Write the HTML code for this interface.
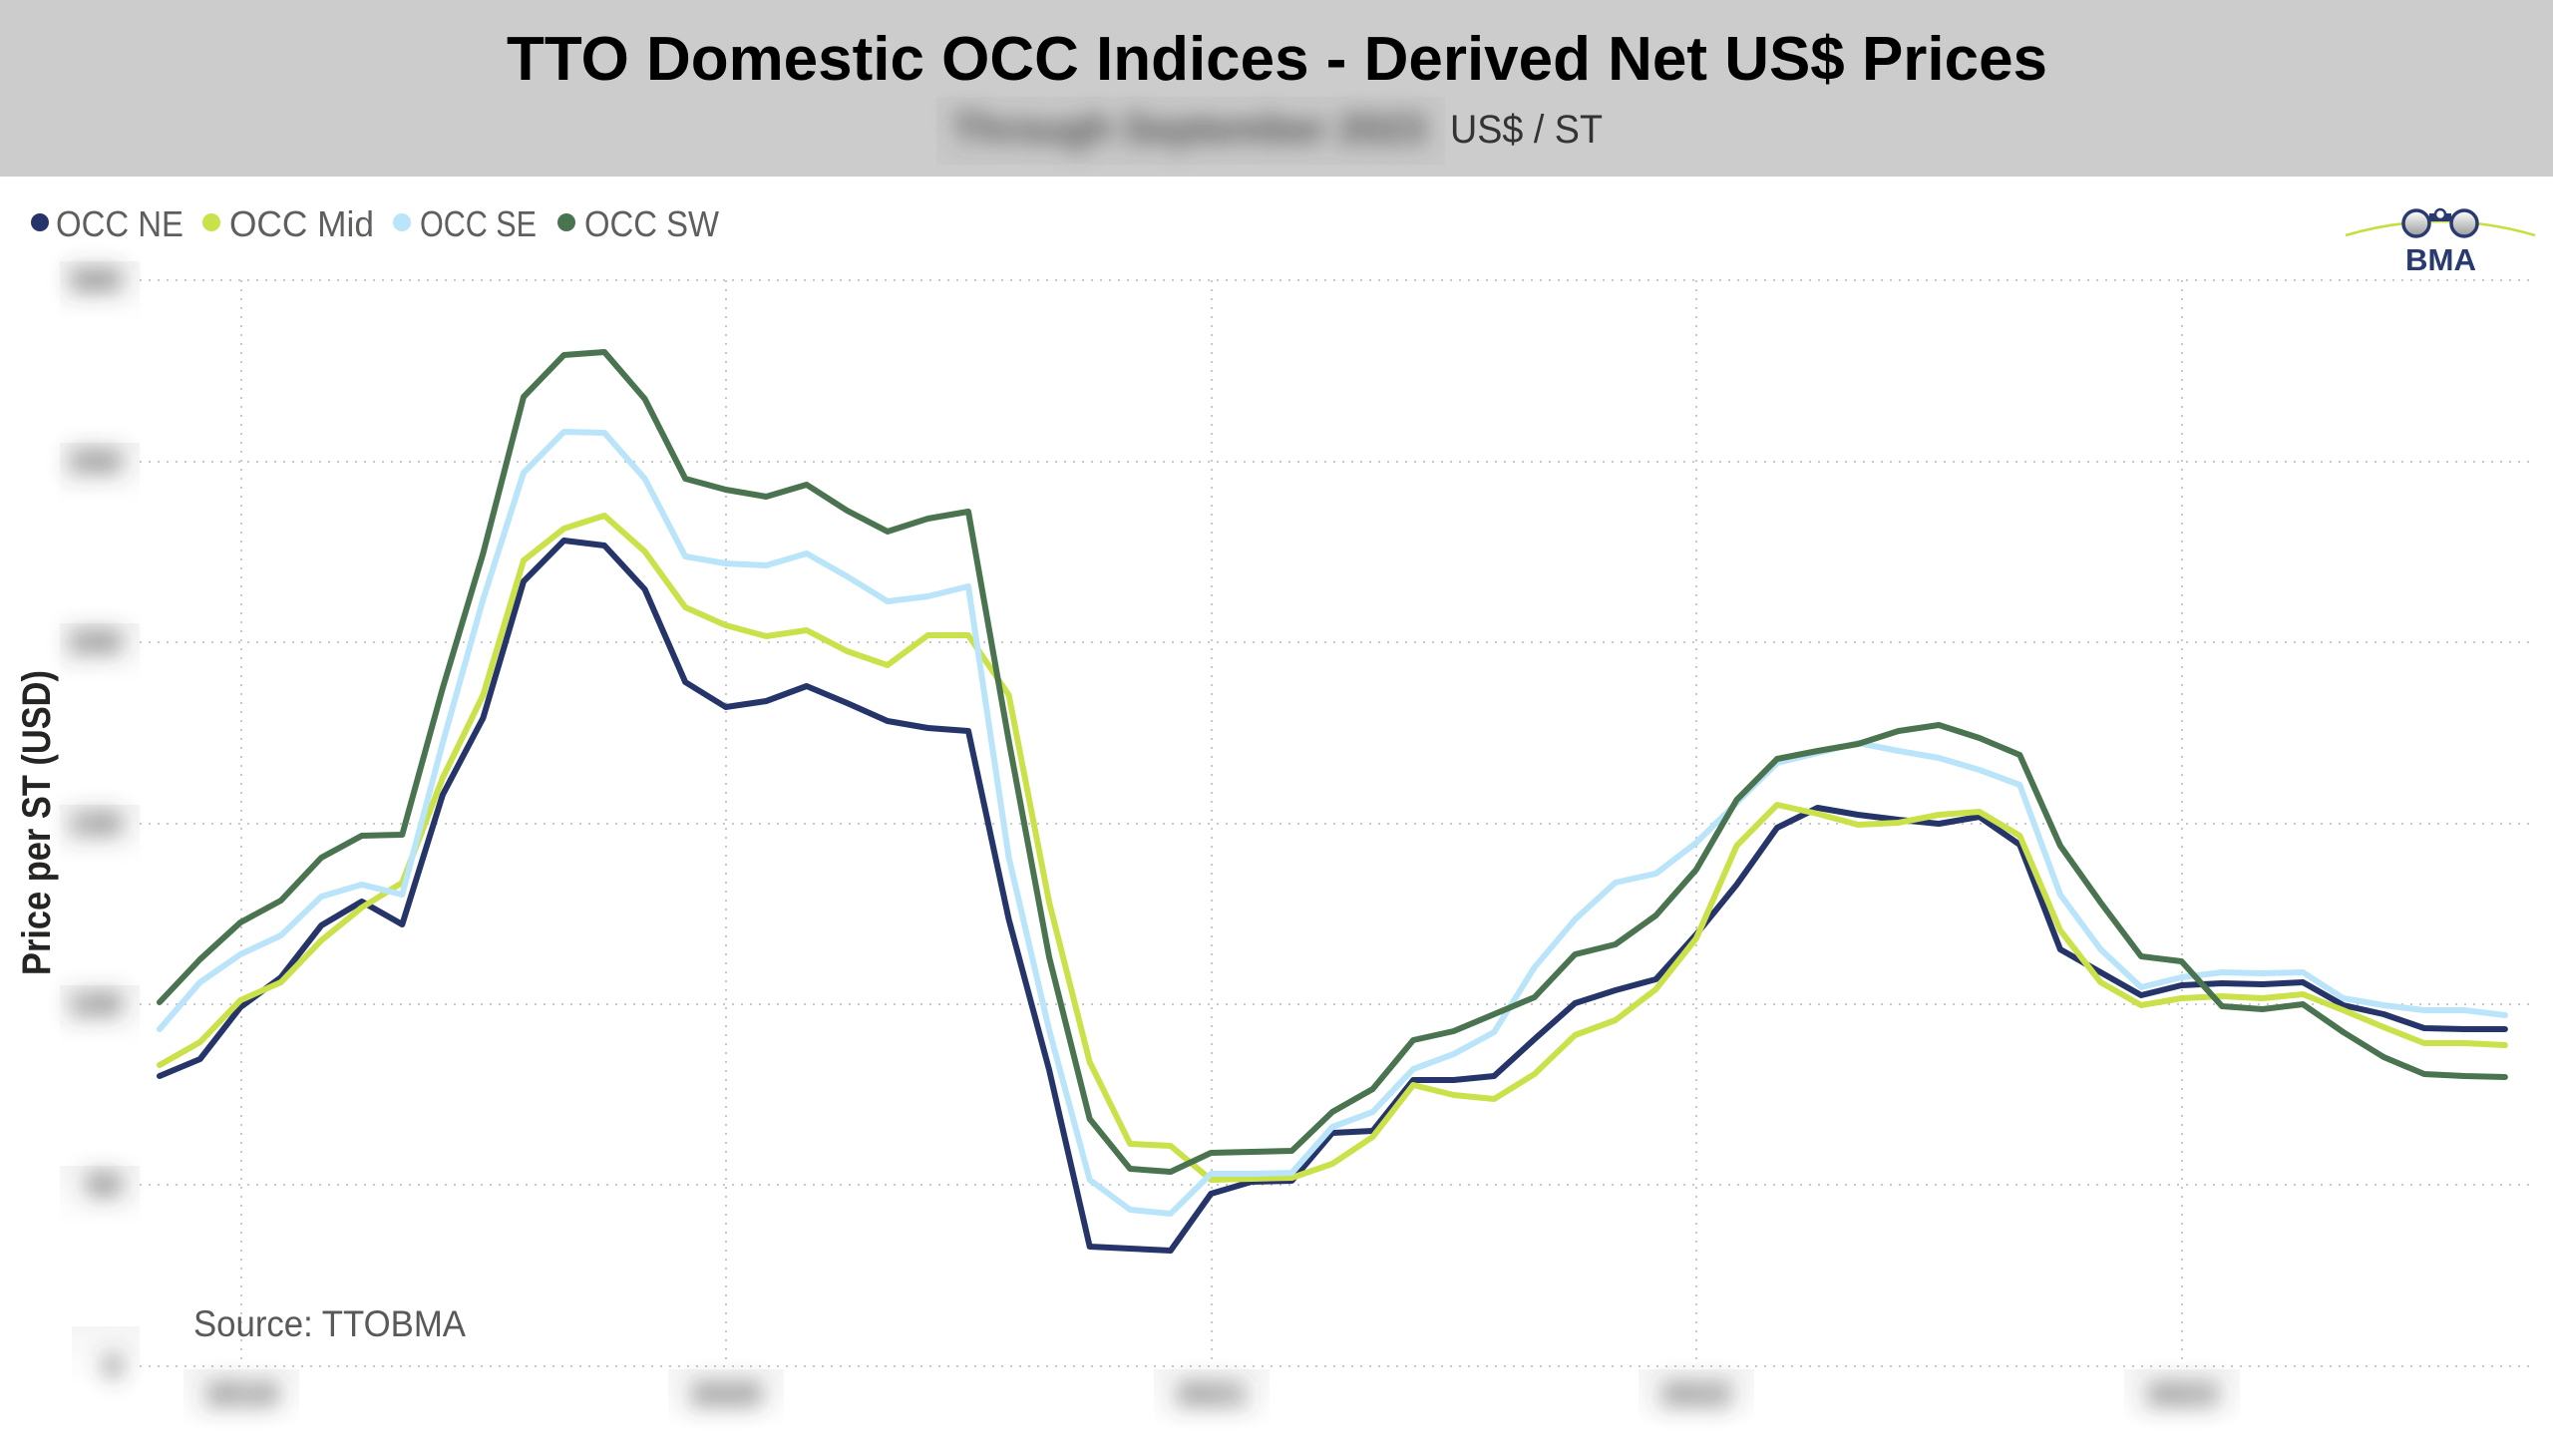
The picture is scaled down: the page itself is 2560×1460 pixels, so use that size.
<!DOCTYPE html>
<html>
<head>
<meta charset="utf-8">
<style>
  html, body { margin:0; padding:0; background:#ffffff; }
  body { width:2560px; height:1460px; overflow:hidden; }
  svg { display:block; }
</style>
</head>
<body>
<svg xmlns="http://www.w3.org/2000/svg" width="2560" height="1460" viewBox="0 0 2560 1460">
  <defs>
    <filter id="blurS" x="-100%" y="-150%" width="300%" height="400%">
      <feGaussianBlur stdDeviation="11"/>
    </filter>
    <filter id="blurT" x="-20%" y="-80%" width="140%" height="260%">
      <feGaussianBlur stdDeviation="11"/>
    </filter>
    <linearGradient id="lens" x1="0" y1="0" x2="0" y2="1">
      <stop offset="0" stop-color="#ffffff"/>
      <stop offset="1" stop-color="#9a9a9a"/>
    </linearGradient>
    <linearGradient id="boxfade" x1="0" y1="0" x2="0" y2="1">
      <stop offset="0" stop-color="#f5f5f5"/>
      <stop offset="1" stop-color="#ffffff"/>
    </linearGradient>
  </defs>

  <!-- Header -->
  <rect x="0" y="0" width="2560" height="177" fill="#cccccc"/>
  <text x="508" y="80" font-family="'Liberation Sans', sans-serif" font-weight="bold" font-size="62" fill="#000000" textLength="1545" lengthAdjust="spacingAndGlyphs">TTO Domestic OCC Indices - Derived Net US$ Prices</text>
  <rect x="939" y="97" width="510" height="68" fill="#c8c8c8"/>
  <text x="955" y="143" font-family="'Liberation Sans', sans-serif" font-weight="bold" font-size="42" fill="#505050" filter="url(#blurT)" textLength="475" lengthAdjust="spacingAndGlyphs">Through September 2023</text>
  <text x="1454" y="143" font-family="'Liberation Sans', sans-serif" font-size="40" fill="#333333" textLength="153" lengthAdjust="spacingAndGlyphs">US$ / ST</text>

  <!-- Legend -->
  <g font-family="'Liberation Sans', sans-serif" font-size="36" fill="#605e5c">
    <circle cx="40" cy="223" r="9" fill="#253469"/>
    <text x="56" y="237" textLength="128" lengthAdjust="spacingAndGlyphs">OCC NE</text>
    <circle cx="212" cy="223" r="9" fill="#cbe14a"/>
    <text x="230" y="237" textLength="145" lengthAdjust="spacingAndGlyphs">OCC Mid</text>
    <circle cx="403" cy="223" r="9" fill="#b9e4fa"/>
    <text x="421" y="237" textLength="117" lengthAdjust="spacingAndGlyphs">OCC SE</text>
    <circle cx="568" cy="223" r="9" fill="#4a7350"/>
    <text x="586" y="237" textLength="135" lengthAdjust="spacingAndGlyphs">OCC SW</text>
  </g>

  <!-- BMA logo -->
  <path d="M2352,236 Q2447,208 2542,236" fill="none" stroke="#c8de3c" stroke-width="2.5"/>
  <circle cx="2423" cy="224" r="13" fill="url(#lens)" stroke="#2a3a70" stroke-width="3.5"/>
  <circle cx="2471" cy="224" r="13" fill="url(#lens)" stroke="#2a3a70" stroke-width="3.5"/>
  <rect x="2436" y="214" width="22" height="8" fill="#2a3a70"/>
  <circle cx="2447" cy="215" r="5" fill="#ffffff" stroke="#2a3a70" stroke-width="2.5"/>
  <text x="2412" y="271" font-family="'Liberation Sans', sans-serif" font-weight="bold" font-size="31" fill="#283a6e" textLength="71" lengthAdjust="spacingAndGlyphs">BMA</text>

  <!-- Blurred label boxes -->
  <g fill="url(#boxfade)">
    <rect x="60" y="262" width="80" height="62"/>
    <rect x="60" y="444" width="80" height="62"/>
    <rect x="60" y="625" width="80" height="62"/>
    <rect x="60" y="807" width="80" height="62"/>
    <rect x="60" y="988" width="80" height="62"/>
    <rect x="60" y="1169" width="80" height="62"/>
    <rect x="72" y="1330" width="68" height="60"/>
    <rect x="184" y="1373" width="116" height="58"/>
    <rect x="670" y="1373" width="116" height="58"/>
    <rect x="1157" y="1373" width="116" height="58"/>
    <rect x="1643" y="1373" width="116" height="58"/>
    <rect x="2130" y="1373" width="116" height="58"/>
  </g>

  <!-- Grid -->
  <g stroke="#c8c8c8" stroke-width="2" stroke-dasharray="2 7" fill="none">
    <line x1="140" y1="281" x2="2540" y2="281"/>
    <line x1="140" y1="463" x2="2540" y2="463"/>
    <line x1="140" y1="644" x2="2540" y2="644"/>
    <line x1="140" y1="826" x2="2540" y2="826"/>
    <line x1="140" y1="1007" x2="2540" y2="1007"/>
    <line x1="140" y1="1188" x2="2540" y2="1188"/>
    <line x1="140" y1="1370" x2="2540" y2="1370"/>
    <line x1="242" y1="281" x2="242" y2="1370"/>
    <line x1="728" y1="281" x2="728" y2="1370"/>
    <line x1="1215" y1="281" x2="1215" y2="1370"/>
    <line x1="1701" y1="281" x2="1701" y2="1370"/>
    <line x1="2188" y1="281" x2="2188" y2="1370"/>
  </g>

  <!-- Blurred Y tick labels -->
  <g font-family="'Liberation Sans', sans-serif" font-weight="bold" font-size="32" fill="#444444" text-anchor="end" filter="url(#blurS)">
    <text x="122" y="292">300</text>
    <text x="122" y="474">250</text>
    <text x="122" y="655">200</text>
    <text x="122" y="837">150</text>
    <text x="122" y="1018">100</text>
    <text x="122" y="1199">50</text>
    <text x="122" y="1381">0</text>
  </g>

  <!-- Blurred X tick labels -->
  <g font-family="'Liberation Sans', sans-serif" font-weight="bold" font-size="32" fill="#444444" text-anchor="middle" filter="url(#blurS)">
    <text x="242" y="1409">2019</text>
    <text x="728" y="1409">2020</text>
    <text x="1215" y="1409">2021</text>
    <text x="1701" y="1409">2022</text>
    <text x="2188" y="1409">2023</text>
  </g>

  <!-- Y axis title -->
  <text transform="translate(50,825) rotate(-90)" text-anchor="middle" font-family="'Liberation Sans', sans-serif" font-weight="bold" font-size="40" fill="#252423" textLength="306" lengthAdjust="spacingAndGlyphs">Price per ST (USD)</text>

  <!-- Source -->
  <text x="194" y="1340" font-family="'Liberation Sans', sans-serif" font-size="37" fill="#595959" textLength="273" lengthAdjust="spacingAndGlyphs">Source: TTOBMA</text>

  <!-- Series -->
  <g fill="none" stroke-width="6" stroke-linejoin="round" stroke-linecap="round">
    <polyline stroke="#253469" points="160,1079 200.6,1062 241.1,1010 281.7,980 322.2,928 362.8,904 403.3,927 443.9,797 484.4,720 525,583 565.5,542 606.1,547 646.6,591 687.2,684 727.7,709 768.3,703 808.8,688 849.4,705 889.9,723 930.5,730 971,733 1011.6,922 1052.1,1073 1092.7,1250 1133.2,1252 1173.8,1254 1214.3,1197 1254.9,1185 1295.4,1184 1336,1136 1376.5,1134 1417.1,1083 1457.6,1083 1498.2,1079 1538.7,1042 1579.3,1006 1619.8,993 1660.4,982 1700.9,937 1741.5,887 1782,830 1822.6,810 1863.1,817 1903.7,822 1944.2,826 1984.8,819 2025.3,847 2065.9,952 2106.4,975 2147,998 2187.5,988 2228.1,986 2268.6,987 2309.2,985 2349.7,1008 2390.3,1017 2430.8,1031 2471.4,1032 2511.9,1032"/>
    <polyline stroke="#cbe14a" points="160,1068 200.6,1045 241.1,1003 281.7,985 322.2,943 362.8,910 403.3,885 443.9,780 484.4,697 525,562 565.5,530 606.1,517 646.6,553 687.2,609 727.7,627 768.3,638 808.8,632 849.4,653 889.9,667 930.5,637 971,637 1011.6,697 1052.1,905 1092.7,1065 1133.2,1147 1173.8,1149 1214.3,1183 1254.9,1182 1295.4,1181 1336,1167 1376.5,1140 1417.1,1088 1457.6,1098 1498.2,1102 1538.7,1077 1579.3,1038 1619.8,1023 1660.4,992 1700.9,941 1741.5,848 1782,807 1822.6,816 1863.1,827 1903.7,825 1944.2,817 1984.8,814 2025.3,838 2065.9,933 2106.4,985 2147,1008 2187.5,1001 2228.1,999 2268.6,1001 2309.2,997 2349.7,1013 2390.3,1030 2430.8,1046 2471.4,1046 2511.9,1048"/>
    <polyline stroke="#b9e4fa" points="160,1032 200.6,985 241.1,957 281.7,938 322.2,899 362.8,887 403.3,897 443.9,745 484.4,601 525,474 565.5,433 606.1,434 646.6,480 687.2,558 727.7,565 768.3,567 808.8,555 849.4,578 889.9,603 930.5,598 971,588 1011.6,860 1052.1,1033 1092.7,1183 1133.2,1213 1173.8,1217 1214.3,1177 1254.9,1177 1295.4,1176 1336,1130 1376.5,1115 1417.1,1072 1457.6,1057 1498.2,1035 1538.7,970 1579.3,922 1619.8,885 1660.4,876 1700.9,845 1741.5,805 1782,765 1822.6,755 1863.1,745 1903.7,753 1944.2,760 1984.8,772 2025.3,787 2065.9,897 2106.4,952 2147,990 2187.5,980 2228.1,975 2268.6,976 2309.2,975 2349.7,1001 2390.3,1008 2430.8,1013 2471.4,1013 2511.9,1018"/>
    <polyline stroke="#4a7350" points="160,1005 200.6,962 241.1,925 281.7,903 322.2,860 362.8,838 403.3,837 443.9,690 484.4,555 525,398 565.5,356 606.1,353 646.6,400 687.2,480 727.7,491 768.3,498 808.8,486 849.4,512 889.9,533 930.5,520 971,513 1011.6,743 1052.1,960 1092.7,1122 1133.2,1172 1173.8,1175 1214.3,1156 1254.9,1155 1295.4,1154 1336,1115 1376.5,1092 1417.1,1043 1457.6,1034 1498.2,1017 1538.7,1000 1579.3,957 1619.8,947 1660.4,918 1700.9,872 1741.5,802 1782,761 1822.6,753 1863.1,746 1903.7,733 1944.2,727 1984.8,740 2025.3,757 2065.9,848 2106.4,905 2147,959 2187.5,964 2228.1,1009 2268.6,1012 2309.2,1007 2349.7,1035 2390.3,1060 2430.8,1077 2471.4,1079 2511.9,1080"/>
  </g>
</svg>
</body>
</html>
